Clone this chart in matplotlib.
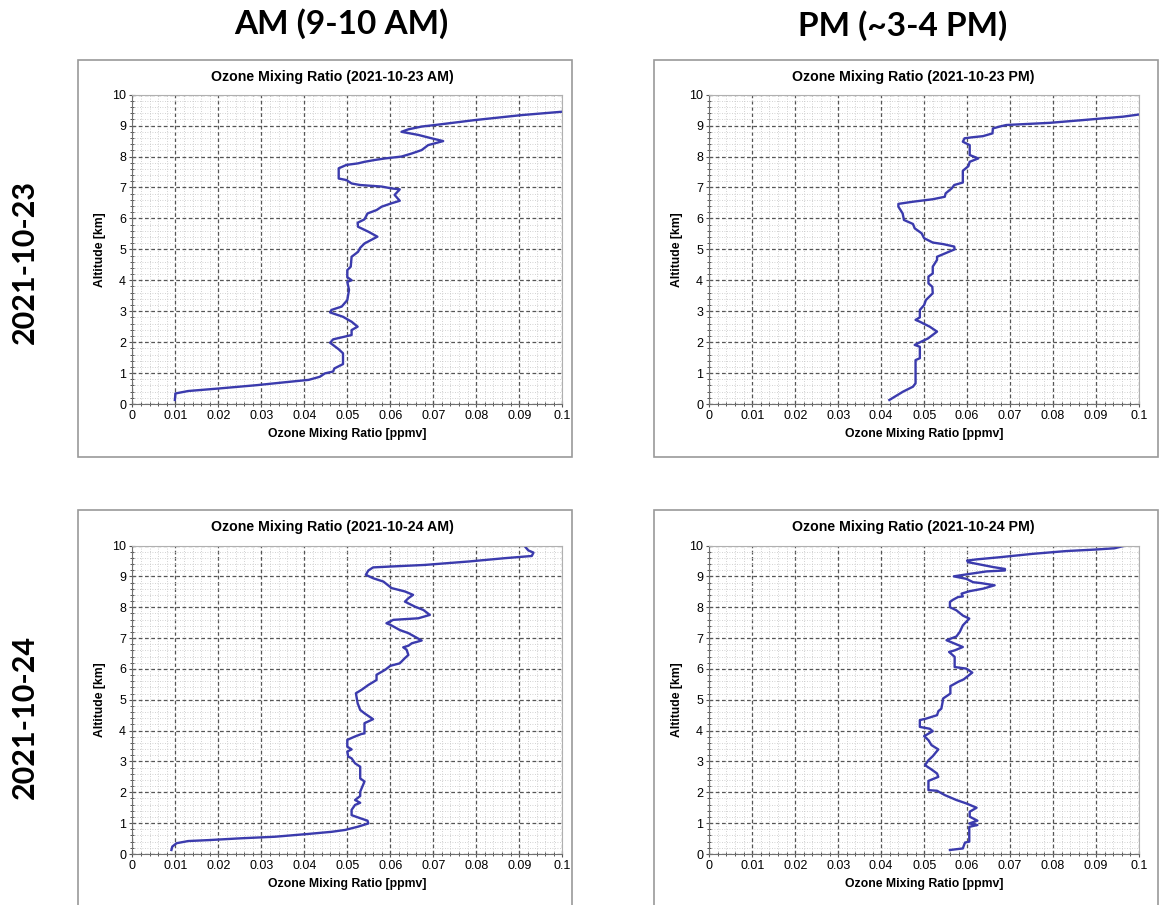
import matplotlib
matplotlib.use("Agg")
import matplotlib.pyplot as plt
from matplotlib.patches import Rectangle
from matplotlib.ticker import MultipleLocator, FuncFormatter


# -------------------------------------------------
# DATA
# -------------------------------------------------

am23_alt = [0.13, 0.29, 0.34, 0.42, 0.5, 0.61, 0.71, 0.78, 0.88, 0.99,
            1.05, 1.15, 1.29, 1.64, 1.77, 1.98, 2.09, 2.23, 2.39, 2.5,
            2.66, 2.82, 2.96, 3.04, 3.15, 3.36, 3.69, 3.95, 4.0, 4.1,
            4.33, 4.44, 4.76, 4.92, 5.05, 5.19, 5.41, 5.57, 5.73, 5.86,
            5.97, 6.16, 6.27, 6.38, 6.49, 6.57, 6.76, 6.94, 6.97, 7.03,
            7.08, 7.13, 7.24, 7.29, 7.62, 7.73, 7.78, 7.83, 7.89, 7.94,
            8.0, 8.1, 8.21, 8.37, 8.5, 8.59, 8.70, 8.8, 8.88, 8.97,
            9.02, 9.18, 9.34, 9.45]
am23_ozone = [0.0099, 0.010, 0.010, 0.013, 0.020, 0.029, 0.036, 0.041, 0.0436, 0.0448,
              0.0467, 0.047, 0.049, 0.049, 0.048, 0.046, 0.0467, 0.051, 0.051, 0.0524,
              0.051, 0.049, 0.046, 0.0463, 0.0487, 0.050, 0.0504, 0.050, 0.051, 0.050,
              0.050, 0.0508, 0.051, 0.0525, 0.053, 0.054, 0.057, 0.0549, 0.0525, 0.0524,
              0.054, 0.0547, 0.0568, 0.058, 0.0603, 0.0622, 0.061, 0.0622, 0.0603, 0.058,
              0.053, 0.051, 0.0498, 0.048, 0.048, 0.0498, 0.0525, 0.054, 0.0564, 0.0588,
              0.0626, 0.065, 0.0673, 0.0688, 0.0723, 0.0696, 0.0665, 0.0626, 0.0642, 0.0673,
              0.0704, 0.0797, 0.0905, 0.100]

pm23_alt = [0.13, 0.24, 0.40, 0.56, 0.67, 1.42, 1.48, 1.85, 1.91, 1.98,
            2.12, 2.34, 2.5, 2.66, 2.72, 2.8, 3.04, 3.2, 3.36, 3.58,
            3.79, 3.9, 4.12, 4.22, 4.44, 4.66, 4.76, 5.0, 5.09, 5.17,
            5.22, 5.36, 5.52, 5.68, 5.82, 5.95, 6.16, 6.38, 6.47, 6.54,
            6.62, 6.70, 6.81, 6.97, 7.08, 7.16, 7.54, 7.69, 7.83, 7.94,
            8.05, 8.37, 8.48, 8.59, 8.62, 8.66, 8.75, 8.91, 8.97, 9.02,
            9.09, 9.18, 9.29, 9.36]
pm23_ozone = [0.0419, 0.0432, 0.0451, 0.0474, 0.048, 0.048, 0.049, 0.049, 0.0478, 0.0488,
              0.0509, 0.053, 0.0513, 0.049, 0.048, 0.049, 0.049, 0.050, 0.0504, 0.052,
              0.0519, 0.051, 0.051, 0.052, 0.052, 0.053, 0.053, 0.0571, 0.057, 0.0544,
              0.052, 0.050, 0.0494, 0.0478, 0.0474, 0.0453, 0.045, 0.044, 0.044, 0.0474,
              0.052, 0.0548, 0.055, 0.0564, 0.057, 0.059, 0.059, 0.0603, 0.0606, 0.0626,
              0.0606, 0.0606, 0.059, 0.0594, 0.061, 0.0637, 0.0659, 0.066, 0.0676, 0.0691,
              0.0792, 0.087, 0.0963, 0.100]

am24_alt = [0.13, 0.24, 0.35, 0.42, 0.45, 0.51, 0.56, 0.65, 0.72, 0.78,
            0.89, 0.99, 1.08, 1.16, 1.26, 1.43, 1.59, 1.66, 1.75, 1.88,
            2.02, 2.35, 2.45, 2.83, 2.94, 3.10, 3.16, 3.32, 3.39, 3.48,
            3.70, 3.81, 3.89, 3.91, 4.24, 4.37, 4.56, 4.67, 4.89, 5.21,
            5.32, 5.48, 5.64, 5.81, 5.97, 6.10, 6.18, 6.35, 6.45, 6.62,
            6.70, 6.75, 6.83, 6.92, 7.16, 7.26, 7.43, 7.48, 7.59, 7.64,
            7.75, 7.91, 8.02, 8.18, 8.29, 8.40, 8.51, 8.62, 8.83, 8.94,
            9.05, 9.19, 9.29, 9.32, 9.37, 9.48, 9.59, 9.66, 9.77, 9.84,
            9.97]
am24_ozone = [0.0091, 0.0093, 0.0103, 0.013, 0.0177, 0.0254, 0.0332, 0.0409, 0.0464, 0.0495,
              0.0526, 0.0549, 0.0547, 0.053, 0.051, 0.051, 0.0518, 0.053, 0.0518, 0.053,
              0.053, 0.054, 0.053, 0.053, 0.0518, 0.051, 0.0502, 0.050, 0.051, 0.050,
              0.050, 0.0518, 0.0533, 0.054, 0.054, 0.056, 0.054, 0.053, 0.0524, 0.052,
              0.0533, 0.0549, 0.0568, 0.0568, 0.0588, 0.060, 0.0622, 0.0634, 0.0642, 0.0638,
              0.063, 0.0642, 0.065, 0.0673, 0.0642, 0.0622, 0.060, 0.0591, 0.0607, 0.0665,
              0.0692, 0.0677, 0.0657, 0.0634, 0.0642, 0.0653, 0.0634, 0.0603, 0.0584, 0.056,
              0.0543, 0.0549, 0.056, 0.0603, 0.068, 0.0781, 0.0867, 0.0929, 0.0933, 0.0921,
              0.0913]

pm24_alt = [0.13, 0.18, 0.37, 0.40, 0.78, 0.88, 0.94, 0.99, 1.08, 1.21,
            1.37, 1.50, 1.64, 1.75, 1.91, 2.05, 2.07, 2.37, 2.50, 2.61,
            2.74, 2.88, 3.04, 3.17, 3.39, 3.53, 3.69, 3.82, 3.98, 4.06,
            4.12, 4.34, 4.39, 4.50, 4.63, 4.71, 4.93, 5.04, 5.20, 5.44,
            5.58, 5.66, 5.88, 6.01, 6.06, 6.39, 6.55, 6.60, 6.71, 6.93,
            7.05, 7.20, 7.41, 7.63, 7.73, 7.90, 8.00, 8.17, 8.24, 8.33,
            8.35, 8.44, 8.52, 8.60, 8.71, 8.78, 8.81, 8.92, 9.0, 9.08,
            9.16, 9.19, 9.24, 9.30, 9.46, 9.51, 9.55, 9.62, 9.73, 9.82,
            9.87, 9.91, 9.98]
pm24_ozone = [0.056, 0.059, 0.0595, 0.0605, 0.0605, 0.0605, 0.0624, 0.0605, 0.0624, 0.0606,
              0.0606, 0.0622, 0.0598, 0.0575, 0.0548, 0.053, 0.051, 0.051, 0.0533, 0.053,
              0.0517, 0.0502, 0.051, 0.052, 0.0533, 0.0517, 0.051, 0.050, 0.052, 0.0513,
              0.049, 0.049, 0.0505, 0.053, 0.0533, 0.054, 0.0543, 0.0544, 0.0561, 0.0561,
              0.0579, 0.0592, 0.0612, 0.0598, 0.0571, 0.0571, 0.0558, 0.0571, 0.059, 0.0552,
              0.0575, 0.0583, 0.059, 0.0605, 0.059, 0.0575, 0.056, 0.056, 0.0567, 0.0579,
              0.059, 0.0587, 0.0606, 0.0637, 0.0664, 0.0633, 0.0614, 0.0598, 0.0569, 0.0606,
              0.0645, 0.0688, 0.0688, 0.0661, 0.0602, 0.0600, 0.0622, 0.0676, 0.0753, 0.0831,
              0.090, 0.0943, 0.0963]

column_titles = ["AM (9-10 AM)", "PM (~3-4 PM)"]
row_titles = ["2021-10-23", "2021-10-24"]
panel_titles = ["Ozone Mixing Ratio (2021-10-23 AM)", "Ozone Mixing Ratio (2021-10-23 PM)",
                "Ozone Mixing Ratio (2021-10-24 AM)", "Ozone Mixing Ratio (2021-10-24 PM)"]

W, H = 1164, 905
LINE = "#3b3bad"
FONT = ["Liberation Sans", "DejaVu Sans"]
BIG = ["Lato", "DejaVu Sans"]


def fx(px):
    return px / W


def fy(py):
    return 1 - py / H


# -------------------------------------------------
# ONE PANEL
# -------------------------------------------------

def draw_panel(fig, box, plot, ozone, alt, title):
    # box = (left, top, right, bottom) of gray frame in pixels
    # plot = (left, top, right, bottom) of plot area in pixels
    l, t, r, b = box
    fig.patches.append(Rectangle((fx(l), fy(b)), fx(r - l), (b - t) / H,
                                 transform=fig.transFigure, fill=False,
                                 edgecolor="#9a9a9a", linewidth=1.2))

    pl, pt, pr, pb = plot
    ax = fig.add_axes([fx(pl), fy(pb), fx(pr - pl), (pb - pt) / H])
    ax.plot(ozone, alt, color=LINE, linewidth=1.7)

    ax.set_xlim(0, 0.1)
    ax.set_ylim(0, 10)
    ax.xaxis.set_major_locator(MultipleLocator(0.01))
    ax.xaxis.set_minor_locator(MultipleLocator(0.002))
    ax.yaxis.set_major_locator(MultipleLocator(1))
    ax.yaxis.set_minor_locator(MultipleLocator(0.2))
    ax.xaxis.set_major_formatter(FuncFormatter(lambda v, p: f"{round(v, 3):g}"))

    ax.grid(which="major", color="#555555", linestyle=(0, (3, 2)), linewidth=0.9)
    ax.grid(which="minor", color="#c4c4c4", linestyle=(0, (1, 2)), linewidth=0.6)
    ax.set_axisbelow(True)

    ax.tick_params(which="major", direction="inout", length=5, width=0.8,
                   color="#555555", labelsize=9, pad=2)
    ax.tick_params(which="minor", direction="inout", length=3, width=0.7,
                   color="#555555")
    for lab in ax.get_xticklabels() + ax.get_yticklabels():
        lab.set_family(FONT)

    for side in ["left", "bottom"]:
        ax.spines[side].set_color("#707070")
    for side in ["top", "right"]:
        ax.spines[side].set_color("#b0b0b0")

    ax.set_xlabel("Ozone Mixing Ratio [ppmv]", fontsize=8.8, fontweight="bold",
                  family=FONT, labelpad=4)
    ax.set_ylabel("Altitude [km]", fontsize=8.7, fontweight="bold",
                  family=FONT, labelpad=4)

    fig.text(fx((l + r) / 2 + 7), fy(t + 17), title, ha="center", va="center",
             fontsize=10.2, fontweight="bold", family=FONT)
    return ax


# -------------------------------------------------
# FIGURE
# -------------------------------------------------

fig = plt.figure(figsize=(W / 100, H / 100), dpi=100)

boxes = [(78, 60, 572, 457), (654, 60, 1158, 457),
         (78, 510, 572, 910), (654, 510, 1158, 910)]
plots = [(132.3, 94.7, 562.3, 404), (709.3, 94.7, 1139, 404),
         (132.3, 545.5, 562.3, 854), (709.3, 545.5, 1139, 854)]
series = [(am23_ozone, am23_alt), (pm23_ozone, pm23_alt),
          (am24_ozone, am24_alt), (pm24_ozone, pm24_alt)]

for box, plot, (oz, al), title in zip(boxes, plots, series, panel_titles):
    draw_panel(fig, box, plot, oz, al, title)

fig.text(fx(341), fy(24), column_titles[0], ha="center", va="center",
         fontsize=24, fontweight="bold", family=BIG)
fig.text(fx(903), fy(26), column_titles[1], ha="center", va="center",
         fontsize=24, fontweight="bold", family=BIG)

fig.text(fx(25), fy(262), row_titles[0], ha="center", va="center", rotation=90,
         fontsize=22, fontweight="bold", family=BIG)
fig.text(fx(25), fy(717), row_titles[1], ha="center", va="center", rotation=90,
         fontsize=22, fontweight="bold", family=BIG)

fig.savefig("out.png", dpi=100)
plt.close(fig)
